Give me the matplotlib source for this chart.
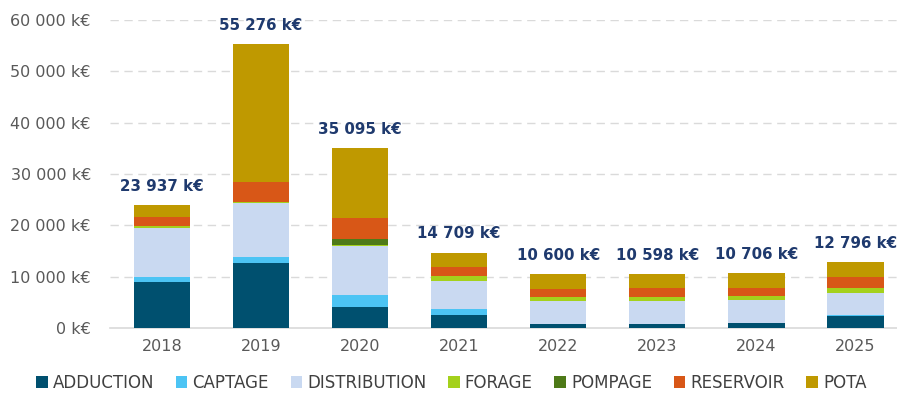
import matplotlib
matplotlib.use("Agg")
import matplotlib.pyplot as plt
from matplotlib.ticker import FuncFormatter
import numpy as np

years = ["2018", "2019", "2020", "2021", "2022", "2023", "2024", "2025"]
series_names = ["ADDUCTION", "CAPTAGE", "DISTRIBUTION", "FORAGE", "POMPAGE", "RESERVOIR", "POTA"]
adduction    = [9000, 12600, 4150, 2600, 770, 800, 950, 2400]
captage      = [860, 1150, 2270, 1150, 50, 50, 50, 50]
distribution = [9640, 10700, 9580, 5450, 4380, 4350, 4450, 4450]
forage       = [300, 200, 100, 1000, 770, 770, 750, 950]
pompage      = [0, 0, 1160, 0, 0, 0, 0, 0]
reservoir    = [1850, 3820, 4200, 1750, 1730, 1750, 1700, 2050]
totals       = [23937, 55276, 35095, 14709, 10600, 10598, 10706, 12796]
pota = [t - (a + c + d + f + p + r) for t, a, c, d, f, p, r in
        zip(totals, adduction, captage, distribution, forage, pompage, reservoir)]

colors = ["#00506f", "#4cc4f4", "#c9d9f1", "#a4d11c", "#4e7a18", "#d85717", "#bf9900"]
data = [adduction, captage, distribution, forage, pompage, reservoir, pota]

fig = plt.figure(figsize=(8.97, 4.03), dpi=100)
ax = fig.add_axes([0.123, 0.186, 0.877, 0.764])

x = np.arange(len(years))
bottom = np.zeros(len(years))
for name, vals, col in zip(series_names, data, colors):
    ax.bar(x, vals, 0.57, bottom=bottom, color=col, label=name, zorder=3)
    bottom += np.array(vals)

def fmt(v):
    return f"{int(round(v)):,}".replace(",", " ") + " k€"

for xi, t in zip(x, totals):
    ax.annotate(fmt(t), (xi, t), xytext=(0, 8), textcoords="offset points",
                ha="center", va="bottom", fontsize=10.8, fontweight="bold",
                color="#1f3a6e")

ax.set_ylim(0, 60000)
ax.set_xlim(-0.52, 7.42)
ax.set_yticks(np.arange(0, 60001, 10000))
ax.yaxis.set_major_formatter(FuncFormatter(lambda v, p: fmt(v)))
ax.set_xticks(x)
ax.set_xticklabels(years)
ax.tick_params(axis="both", length=0, labelsize=11.5, labelcolor="#595959")
ax.tick_params(axis="x", pad=8)
ax.tick_params(axis="y", pad=14)
ax.grid(axis="y", color="#dadada", linestyle=(0, (6, 4)), linewidth=1, zorder=0)
for s in ["top", "right", "left"]:
    ax.spines[s].set_visible(False)
ax.spines["bottom"].set_color("#d9d9d9")
ax.spines["bottom"].set_linewidth(1.2)
ax.yaxis.get_gridlines()[0].set_visible(False)

leg = fig.legend(loc="lower center", bbox_to_anchor=(0.503, -0.01), ncol=7, frameon=False,
                 handlelength=0.7, handleheight=0.7, handletextpad=0.3, columnspacing=1.3,
                 prop={"size": 12})
for t in leg.get_texts():
    t.set_color("#404040")

fig.savefig("out.png", dpi=100)
